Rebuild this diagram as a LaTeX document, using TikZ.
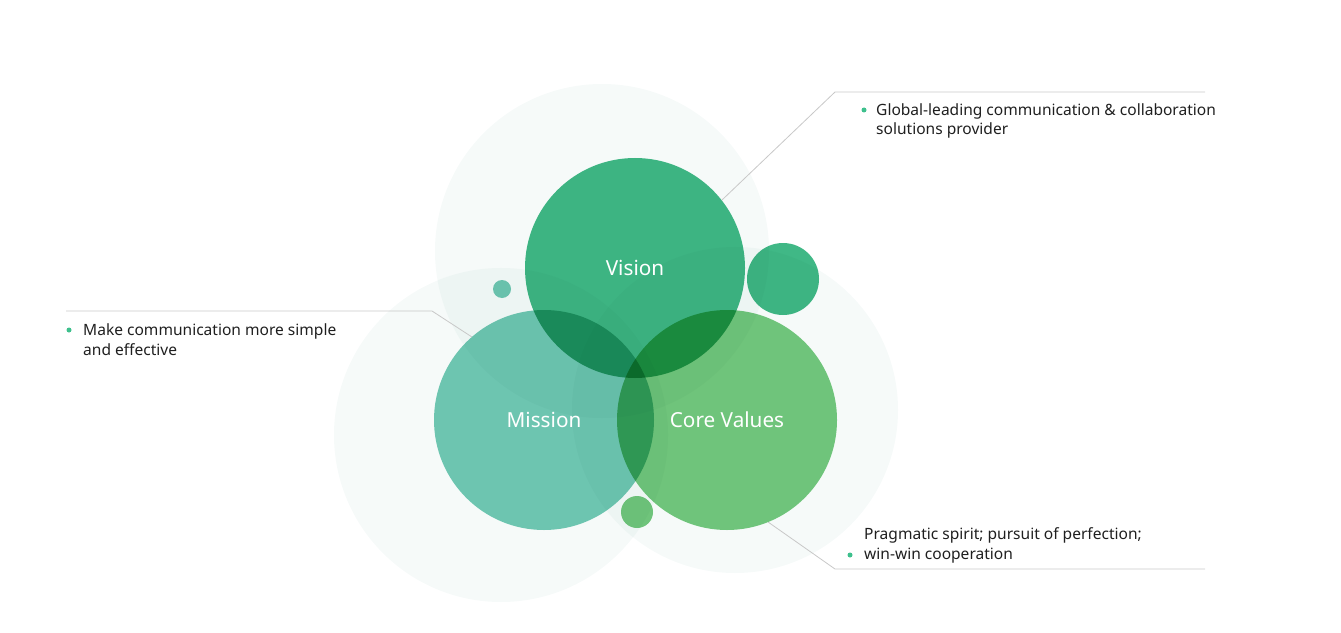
\documentclass[tikz,border=0pt]{standalone}
\usepackage{fontspec}
\setmainfont{Noto Sans}
\usepackage{tikz}
\usetikzlibrary{positioning}
\definecolor{visiongreen}{RGB}{64,184,134}
\definecolor{missionteal}{RGB}{114,201,181}
\definecolor{valuegreen}{RGB}{116,200,126}
\definecolor{haloteal}{RGB}{246,250,249}
\definecolor{leadergray}{RGB}{200,200,200}
\definecolor{bulletgreen}{RGB}{62,192,141}

\begin{document}
\begin{tikzpicture}[
    x=1bp, y=-1bp,
    halo/.style={circle, inner sep=0pt, fill=haloteal, minimum size=334bp},
    bubble/.style={circle, inner sep=0pt, minimum size=220bp},
    bubtext/.style={font=\fontsize{20.8}{24}\selectfont, text=white},
    leader/.style={draw=leadergray, line width=0.8bp},
    bullet/.style={circle, fill=bulletgreen, inner sep=0pt, minimum size=5bp},
    desc/.style={font=\fontsize{15.6}{20}\selectfont, text=black!88,
        align=left, inner sep=0pt, anchor=base west},
]
\useasboundingbox (0,0) rectangle (1341,633);

% === Background halos and bubbles (multiplied) ===
\begin{scope}[blend mode=multiply]
\node[halo] (halotop)   at (602,251) {};
\node[halo] (haloleft)  at (501,435) {};
\node[halo, minimum size=326bp] (haloright) at (735,410) {};

\node[bubble, fill=visiongreen] (vision)  at (635,268) {};
\node[bubble, fill=missionteal] (mission) at (544,420) {};
\node[bubble, fill=valuegreen]  (core)    at (727,420) {};

% small satellites
\node[circle, inner sep=0pt, minimum size=72bp, fill=visiongreen] (satright) at (783,279) {};
\node[circle, inner sep=0pt, minimum size=18bp, fill=missionteal] (satleft)  at (502,289) {};
\node[circle, inner sep=0pt, minimum size=32bp, fill=valuegreen]  (satlow)   at (637,512) {};
\end{scope}

% Bubble labels
\node[bubtext] (visionlbl)  at (vision)  {Vision};
\node[bubtext] (missionlbl) at (mission) {Mission};
\node[bubtext] (corelbl)    at (core)    {Core Values};

% === Leader lines ===
\coordinate (vbend) at (835,92);
\coordinate (vend)  at (1205,92);
\coordinate (mbend) at (432,311);
\coordinate (mend)  at (66,311);
\coordinate (cbend) at (835,569);
\coordinate (cend)  at (1205,569);
\draw[leader] (vision.38) -- (vbend) -- (vend);
\draw[leader] (mission.131) -- (mbend) -- (mend);
\draw[leader] (core.-68) -- (cbend) -- (cend);

% === Descriptions ===
\node[bullet] (vbul) at (864,110) {};
\node[desc] (vdesc) at (876,135) {Global-leading communication \& collaboration\\solutions provider};

\node[bullet] (mbul) at (69,330) {};
\node[desc] (mdesc) at (83,355) {Make communication more simple\\and effective};

\node[bullet] (cbul) at (850,555) {};
\node[desc] (cdesc) at (864,559) {Pragmatic spirit; pursuit of perfection;\\win-win cooperation};

\end{tikzpicture}
\end{document}
